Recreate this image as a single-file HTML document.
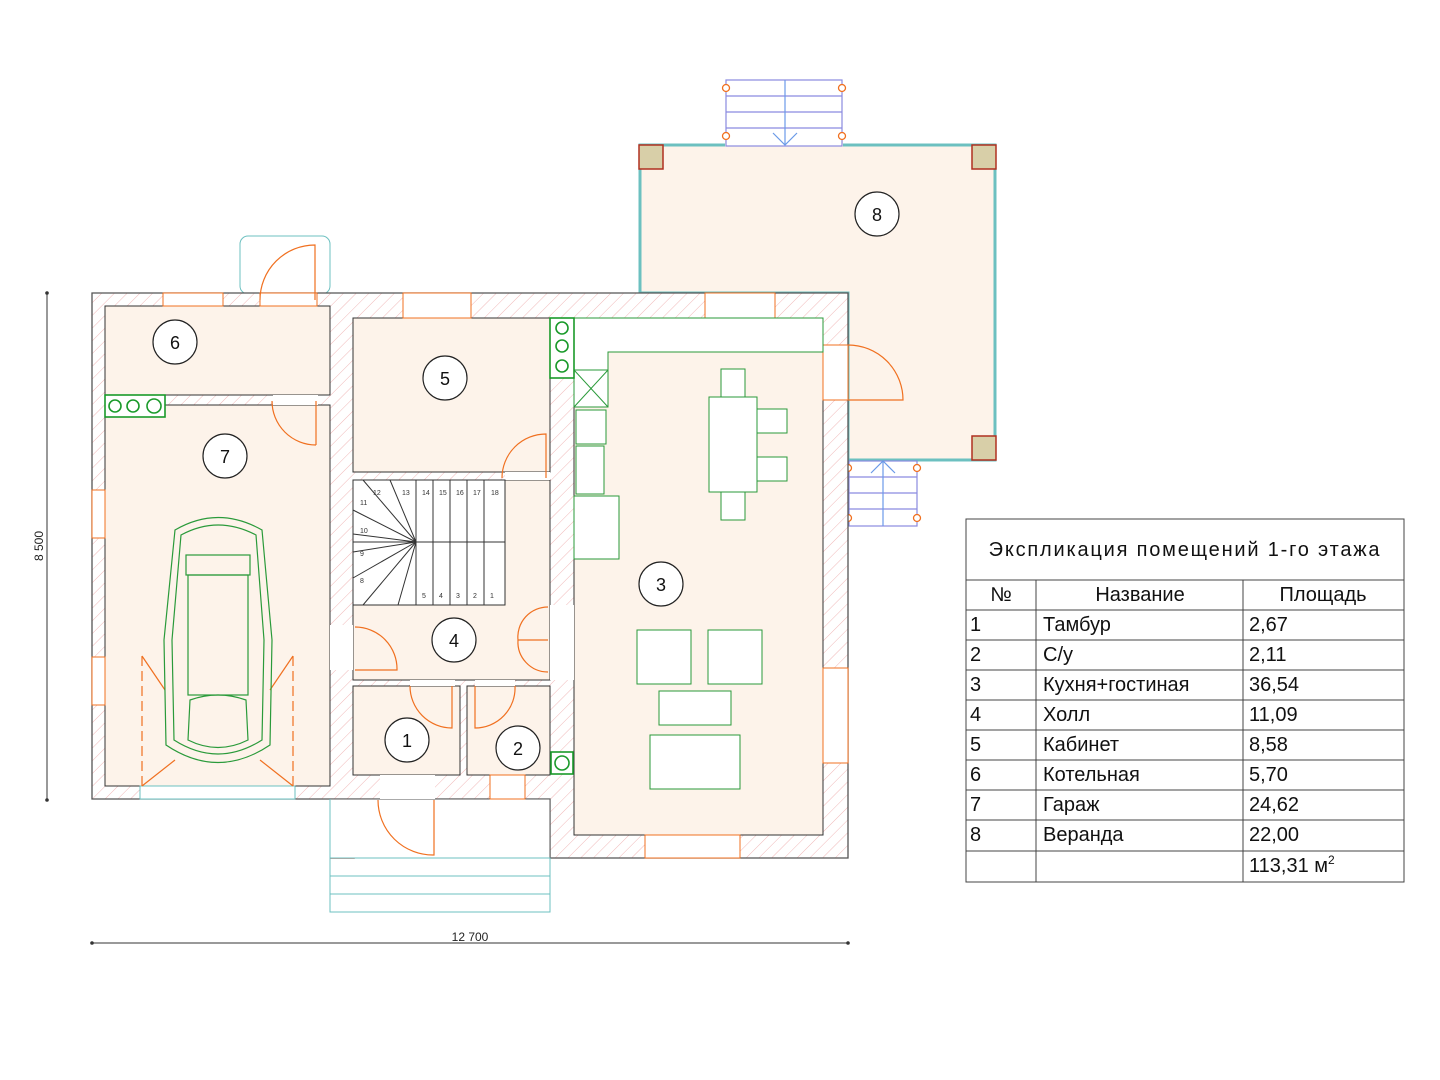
<!DOCTYPE html>
<html><head><meta charset="utf-8"><style>
html,body{margin:0;padding:0;background:#fff;width:1440px;height:1080px;overflow:hidden}
text{font-family:"Liberation Sans","DejaVu Sans",sans-serif}
</style></head><body>
<svg width="1440" height="1080" viewBox="0 0 1440 1080" xmlns="http://www.w3.org/2000/svg">
<defs>
<pattern id="h" width="9" height="9" patternUnits="userSpaceOnUse" patternTransform="rotate(45)">
<rect width="9" height="9" fill="#fff"/><line x1="0" y1="0" x2="0" y2="9" stroke="#f0b8b8" stroke-width="1"/></pattern>
</defs>
<g fill="none" stroke="#f08a3a" stroke-width="1"></g>
<!-- veranda -->
<polygon points="640,145 995,145 995,460 848,460 848,293 640,293" fill="#fdf3ea" stroke="#6cc0c0" stroke-width="3"/>
<rect x="725" y="138" width="118" height="12" fill="#fdf3ea"/>
<!-- top stairs -->
<g stroke="#8a8ae0" stroke-width="1.2" fill="#fff">
<rect x="726" y="80" width="116" height="66"/>
<line x1="726" y1="96" x2="842" y2="96"/><line x1="726" y1="112" x2="842" y2="112"/><line x1="726" y1="128" x2="842" y2="128"/>
<line x1="785" y1="80" x2="785" y2="145" stroke="#6a9ae8"/>
<polyline points="773,133 785,145 797,133" stroke="#6a9ae8" fill="none"/>
</g>
<g fill="#fff" stroke="#f07020" stroke-width="1.3"><circle cx="726" cy="88" r="3.5"/><circle cx="842" cy="88" r="3.5"/><circle cx="726" cy="136" r="3.5"/><circle cx="842" cy="136" r="3.5"/></g>
<!-- side stairs -->
<g stroke="#8a8ae0" stroke-width="1.2" fill="#fff">
<rect x="849" y="461" width="68" height="65"/>
<line x1="849" y1="477" x2="917" y2="477"/><line x1="849" y1="493" x2="917" y2="493"/><line x1="849" y1="509" x2="917" y2="509"/>
<line x1="883" y1="461" x2="883" y2="526" stroke="#6a9ae8"/>
<polyline points="871,473 883,461 895,473" stroke="#6a9ae8" fill="none"/>
</g>
<g fill="#fff" stroke="#f07020" stroke-width="1.3"><circle cx="848" cy="468" r="3.5"/><circle cx="917" cy="468" r="3.5"/><circle cx="848" cy="518" r="3.5"/><circle cx="917" cy="518" r="3.5"/></g>
<!-- posts -->
<g fill="#d8cfa8" stroke="#b03020" stroke-width="1.5">
<rect x="639" y="145" width="24" height="24"/><rect x="972" y="145" width="24" height="24"/><rect x="972" y="436" width="24" height="24"/><rect x="331" y="835" width="23" height="23"/></g>
<!-- garage door bump at top -->
<rect x="240" y="236" width="90" height="58" rx="8" fill="#fff" stroke="#6cc0c0"/>
<!-- building walls -->
<polygon points="92,293 848,293 848,858 550,858 550,799 92,799" fill="url(#h)" stroke="#555" stroke-width="1.3"/>
<!-- rooms -->
<g fill="#fdf3ea" stroke="#333" stroke-width="1">
<rect x="105" y="306" width="225" height="89"/>
<rect x="105" y="405" width="225" height="381"/>
<rect x="353" y="318" width="197" height="154"/>
<polygon points="353,480 550,480 550,605 550,680 353,680"/>
<rect x="353" y="686" width="107" height="89"/>
<rect x="467" y="686" width="83" height="89"/>
<rect x="574" y="318" width="249" height="517"/>
</g>
<rect x="330" y="799" width="220" height="59" fill="#fff" stroke="#555"/>
<g stroke="#6cc0c0" fill="none"><rect x="330" y="858" width="220" height="54"/><line x1="330" y1="876" x2="550" y2="876"/><line x1="330" y1="894" x2="550" y2="894"/><line x1="330" y1="799" x2="330" y2="858"/></g>
<!-- windows -->
<g fill="#fff" stroke="#f07020" stroke-width="1">
<rect x="163" y="293" width="60" height="13"/><rect x="260" y="293" width="57" height="13"/>
<rect x="403" y="293" width="68" height="25"/><rect x="705" y="293" width="70" height="25"/>
<rect x="823" y="345" width="25" height="55"/><rect x="92" y="490" width="13" height="48"/><rect x="92" y="657" width="13" height="48"/>
<rect x="823" y="668" width="25" height="95"/><rect x="645" y="835" width="95" height="23"/>
<rect x="140" y="786" width="155" height="13" stroke="#6cc0c0"/>
<rect x="273" y="395" width="45" height="10" stroke="none"/>
<rect x="330" y="625" width="23" height="45" stroke="none"/><rect x="550" y="605" width="24" height="75" stroke="none"/>
<rect x="505" y="472" width="45" height="8" stroke="none"/>
<rect x="410" y="680" width="45" height="6" stroke="none"/><rect x="475" y="680" width="40" height="6" stroke="none"/>
<rect x="380" y="775" width="55" height="24" stroke="none"/><rect x="490" y="775" width="35" height="24"/>
<rect x="823" y="345" width="25" height="55" fill="#fff"/>
</g>
<!-- doors -->
<g fill="none" stroke="#f07020" stroke-width="1.2">
<path d="M260,300 A55,55 0 0 1 315,245 L315,300"/>
<path d="M316,445 A44,44 0 0 1 272,401"/><line x1="316" y1="401" x2="316" y2="445"/>
<path d="M502,478 A44,44 0 0 1 546,434 L546,478"/>
<path d="M355,627 A42,42 0 0 1 397,670 L355,670"/>
<path d="M548,607 A30,30 0 0 0 518,640 L548,640"/><path d="M548,672 A30,30 0 0 1 518,640"/>
<path d="M410,686 A42,42 0 0 0 452,728 L452,686"/>
<path d="M515,686 A40,40 0 0 1 475,728 L475,686"/>
<path d="M378,800 A55,55 0 0 0 434,855 L434,800"/>
<path d="M848,345 A55,55 0 0 1 903,400 L848,400"/>
<line x1="142" y1="656" x2="142" y2="786" stroke-dasharray="10,5"/><line x1="293" y1="656" x2="293" y2="786" stroke-dasharray="10,5"/>
<line x1="142" y1="656" x2="165" y2="690"/><line x1="293" y1="656" x2="270" y2="690"/>
<line x1="142" y1="786" x2="175" y2="760"/><line x1="293" y1="786" x2="260" y2="760"/>
</g>
<!-- stairs -->
<g stroke="#333" stroke-width="1" fill="#fff">
<rect x="353" y="480" width="152" height="125"/>
<line x1="353" y1="542" x2="505" y2="542"/>
<line x1="416" y1="480" x2="416" y2="605"/>
<line x1="433" y1="480" x2="433" y2="605"/><line x1="450" y1="480" x2="450" y2="605"/><line x1="467" y1="480" x2="467" y2="605"/><line x1="484" y1="480" x2="484" y2="605"/>
<line x1="353" y1="510" x2="416" y2="542"/><line x1="353" y1="534" x2="416" y2="542"/><line x1="353" y1="552" x2="416" y2="542"/><line x1="353" y1="578" x2="416" y2="542"/><line x1="390" y1="480" x2="416" y2="542"/><line x1="363" y1="605" x2="416" y2="542"/><line x1="398" y1="605" x2="416" y2="542"/>
<line x1="363" y1="480" x2="416" y2="542"/>
</g>
<g font-size="7" fill="#333"><text x="373" y="495">12</text><text x="402" y="495">13</text><text x="422" y="495">14</text><text x="439" y="495">15</text><text x="456" y="495">16</text><text x="473" y="495">17</text><text x="491" y="495">18</text><text x="360" y="505">11</text><text x="360" y="533">10</text><text x="360" y="556">9</text><text x="360" y="583">8</text><text x="422" y="598">5</text><text x="439" y="598">4</text><text x="456" y="598">3</text><text x="473" y="598">2</text><text x="490" y="598">1</text></g>
<!-- kitchen -->
<g fill="#fff" stroke="#2a9a3a" stroke-width="1">
<polygon points="574,318 823,318 823,352 608,352 608,370 574,370"/>
<rect x="574" y="370" width="34" height="37"/><line x1="574" y1="370" x2="608" y2="407"/><line x1="608" y1="370" x2="574" y2="407"/>
<rect x="576" y="410" width="30" height="34"/><rect x="576" y="446" width="28" height="48"/>
<rect x="574" y="496" width="45" height="63"/>
<rect x="709" y="397" width="48" height="95"/><rect x="721" y="369" width="24" height="28"/><rect x="721" y="492" width="24" height="28"/>
<rect x="757" y="409" width="30" height="24"/><rect x="757" y="457" width="30" height="24"/>
<rect x="637" y="630" width="54" height="54"/><rect x="708" y="630" width="54" height="54"/>
<rect x="659" y="691" width="72" height="34"/><rect x="650" y="735" width="90" height="54"/>
</g>
<g fill="#fff" stroke="#1a9a2a" stroke-width="1.6">
<rect x="550" y="318" width="24" height="60"/><circle cx="562" cy="328" r="6"/><circle cx="562" cy="346" r="6"/><circle cx="562" cy="366" r="6"/>
<rect x="105" y="395" width="60" height="22"/><circle cx="115" cy="406" r="6"/><circle cx="133" cy="406" r="6"/><circle cx="154" cy="406" r="7"/>
<rect x="551" y="752" width="22" height="22"/><circle cx="562" cy="763" r="7"/>
</g>
<!-- car -->
<g fill="none" stroke="#2a9a3a" stroke-width="1.2">
<path d="M175,530 Q218,505 262,530 L272,640 L270,745 Q218,780 166,745 L164,640 Z"/>
<path d="M181,535 Q218,515 256,535 L264,640 L262,740 Q218,768 174,740 L172,640 Z"/>
<rect x="186" y="555" width="64" height="20"/><rect x="188" y="575" width="60" height="120"/>
<path d="M190,700 Q218,690 246,700 L248,740 Q218,755 188,740 Z"/>
</g>
<!-- room labels -->
<g fill="#fff" stroke="#222" stroke-width="1.2">
<circle cx="175" cy="342" r="22"/><circle cx="225" cy="456" r="22"/><circle cx="445" cy="378" r="22"/><circle cx="454" cy="640" r="22"/><circle cx="407" cy="740" r="22"/><circle cx="518" cy="748" r="22"/><circle cx="661" cy="584" r="22"/><circle cx="877" cy="214" r="22"/>
</g>
<g font-size="18" fill="#111" text-anchor="middle">
<text x="175" y="349">6</text><text x="225" y="463">7</text><text x="445" y="385">5</text><text x="454" y="647">4</text><text x="407" y="747">1</text><text x="518" y="755">2</text><text x="661" y="591">3</text><text x="877" y="221">8</text>
</g>
<!-- dimensions -->
<g stroke="#333" stroke-width="1"><line x1="47" y1="293" x2="47" y2="800"/><line x1="92" y1="943" x2="848" y2="943"/></g>
<g fill="#333"><circle cx="47" cy="293" r="1.8"/><circle cx="47" cy="800" r="1.8"/><circle cx="92" cy="943" r="1.8"/><circle cx="848" cy="943" r="1.8"/></g>
<text x="470" y="941" font-size="12" text-anchor="middle" fill="#222">12 700</text>
<text transform="translate(43,546) rotate(-90)" font-size="12" text-anchor="middle" fill="#222">8 500</text>
<!-- table -->
<g stroke="#444" stroke-width="1" fill="none">
<rect x="966" y="519" width="438" height="363"/>
<line x1="966" y1="580" x2="1404" y2="580"/>
<line x1="966" y1="610" x2="1404" y2="610"/><line x1="966" y1="640" x2="1404" y2="640"/><line x1="966" y1="670" x2="1404" y2="670"/><line x1="966" y1="700" x2="1404" y2="700"/><line x1="966" y1="730" x2="1404" y2="730"/><line x1="966" y1="760" x2="1404" y2="760"/><line x1="966" y1="790" x2="1404" y2="790"/><line x1="966" y1="820" x2="1404" y2="820"/><line x1="966" y1="851" x2="1404" y2="851"/>
<line x1="1036" y1="580" x2="1036" y2="882"/><line x1="1243" y1="580" x2="1243" y2="882"/>
</g>
<g font-size="20" fill="#111">
<text x="1185" y="556" text-anchor="middle" letter-spacing="1.8">Экспликация помещений 1-го этажа</text>
<text x="1001" y="601" text-anchor="middle">№</text><text x="1140" y="601" text-anchor="middle">Название</text><text x="1323" y="601" text-anchor="middle">Площадь</text>
<text x="970" y="631">1</text><text x="1043" y="631">Тамбур</text><text x="1249" y="631">2,67</text>
<text x="970" y="661">2</text><text x="1043" y="661">С/у</text><text x="1249" y="661">2,11</text>
<text x="970" y="691">3</text><text x="1043" y="691">Кухня+гостиная</text><text x="1249" y="691">36,54</text>
<text x="970" y="721">4</text><text x="1043" y="721">Холл</text><text x="1249" y="721">11,09</text>
<text x="970" y="751">5</text><text x="1043" y="751">Кабинет</text><text x="1249" y="751">8,58</text>
<text x="970" y="781">6</text><text x="1043" y="781">Котельная</text><text x="1249" y="781">5,70</text>
<text x="970" y="811">7</text><text x="1043" y="811">Гараж</text><text x="1249" y="811">24,62</text>
<text x="970" y="841">8</text><text x="1043" y="841">Веранда</text><text x="1249" y="841">22,00</text>
<text x="1249" y="872">113,31 м<tspan font-size="12" dy="-8">2</tspan></text>
</g>
</svg>
</body></html>
